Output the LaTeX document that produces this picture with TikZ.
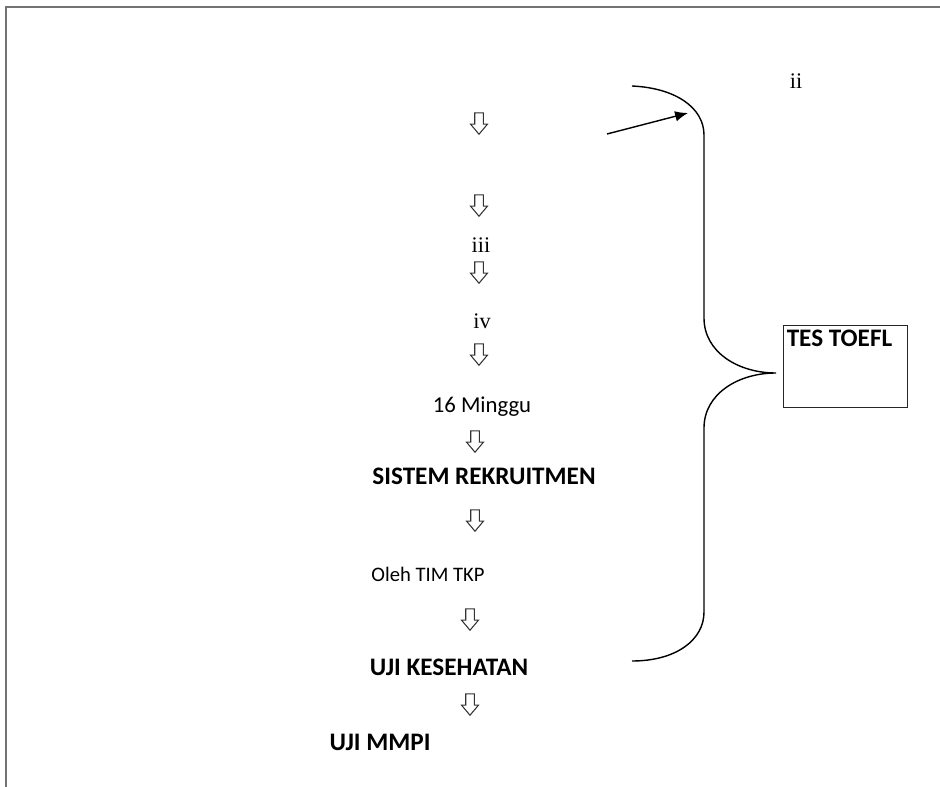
\documentclass[tikz,border=0pt]{standalone}
\usepackage{fontspec}
\setmainfont{Carlito}
\newfontfamily\romfont{Liberation Serif}
\usetikzlibrary{positioning,arrows.meta,shapes.arrows}

\begin{document}
\begin{tikzpicture}[
  x=0.03cm, y=-0.03cm,
  >=Latex,
  downarr/.style={single arrow, draw=black!80, line width=0.9pt, rotate=-90,
                  inner xsep=6.5pt, inner ysep=3.2pt, single arrow head extend=3.6pt,
                  single arrow tip angle=80, minimum width=0pt, minimum height=0pt},
  stage/.style={font=\fontsize{21.5}{24}\selectfont\bfseries, anchor=base, inner sep=0pt},
  note/.style={font=\fontsize{17.6}{20}\selectfont, anchor=base, inner sep=0pt},
  numl/.style={font=\romfont\fontsize{19}{22}\selectfont, anchor=base, inner sep=0pt},
]
\useasboundingbox (0,0) rectangle (940,787);

% ---------- page edge ----------
\draw[black!55, line width=1.5pt] (6,787) -- (6,7) -- (940,7);

% ---------- chain of stages ----------
\node[downarr] (d1) at (479,121) {};
\node[downarr] (d2) at (479,203) {};
\node[numl] (iii) at (481,252) {iii};
\node[downarr] (d3) at (479,270) {};
\node[numl] (iv) at (482,328) {iv};
\node[downarr] (d4) at (479,352) {};
\node[note, font=\fontsize{19.4}{22}\selectfont] (minggu) at (482,412) {16 Minggu};
\node[downarr] (d5) at (475,439) {};
\node[stage] (rekrut) at (484,484) {SISTEM REKRUITMEN};
\node[downarr] (d6) at (475,518) {};
\node[note] (oleh) at (428,581) {Oleh TIM TKP};
\node[downarr] (d7) at (470,617) {};
\node[stage] (sehat) at (449,675) {UJI KESEHATAN};
\node[downarr] (d8) at (470,702) {};
\node[stage] (mmpi) at (380,750) {UJI MMPI};

% ---------- brace and TOEFL box ----------
\node[numl] (ii) at (796,89) {ii};
\node[draw, black!85, line width=1pt, anchor=north west, minimum width=3.72cm, minimum height=2.46cm,
      label={[stage, anchor=north west, black, xshift=3pt, yshift=-4pt]north west:TES TOEFL}] (toefl) at (783,325) {};

\coordinate (btop) at (632,86);
\coordinate (btip) at (776,373);
\coordinate (bbot) at (632,661);
\draw[line width=1.2pt] (btop) .. controls (676,88) and (704,108) .. (704,135) -- (704,318)
  .. controls (704,352) and (738,373) .. (btip)
  .. controls (738,373) and (704,394) .. (704,428) -- (704,612)
  .. controls (704,640) and (676,661) .. (bbot);

% arrow into the brace
\coordinate (src) at (607,134);
\coordinate (dst) at (688,113);
\draw[-{Latex[length=11pt,width=9pt]}, line width=1.2pt] (src) -- (dst);

\end{tikzpicture}
\end{document}
